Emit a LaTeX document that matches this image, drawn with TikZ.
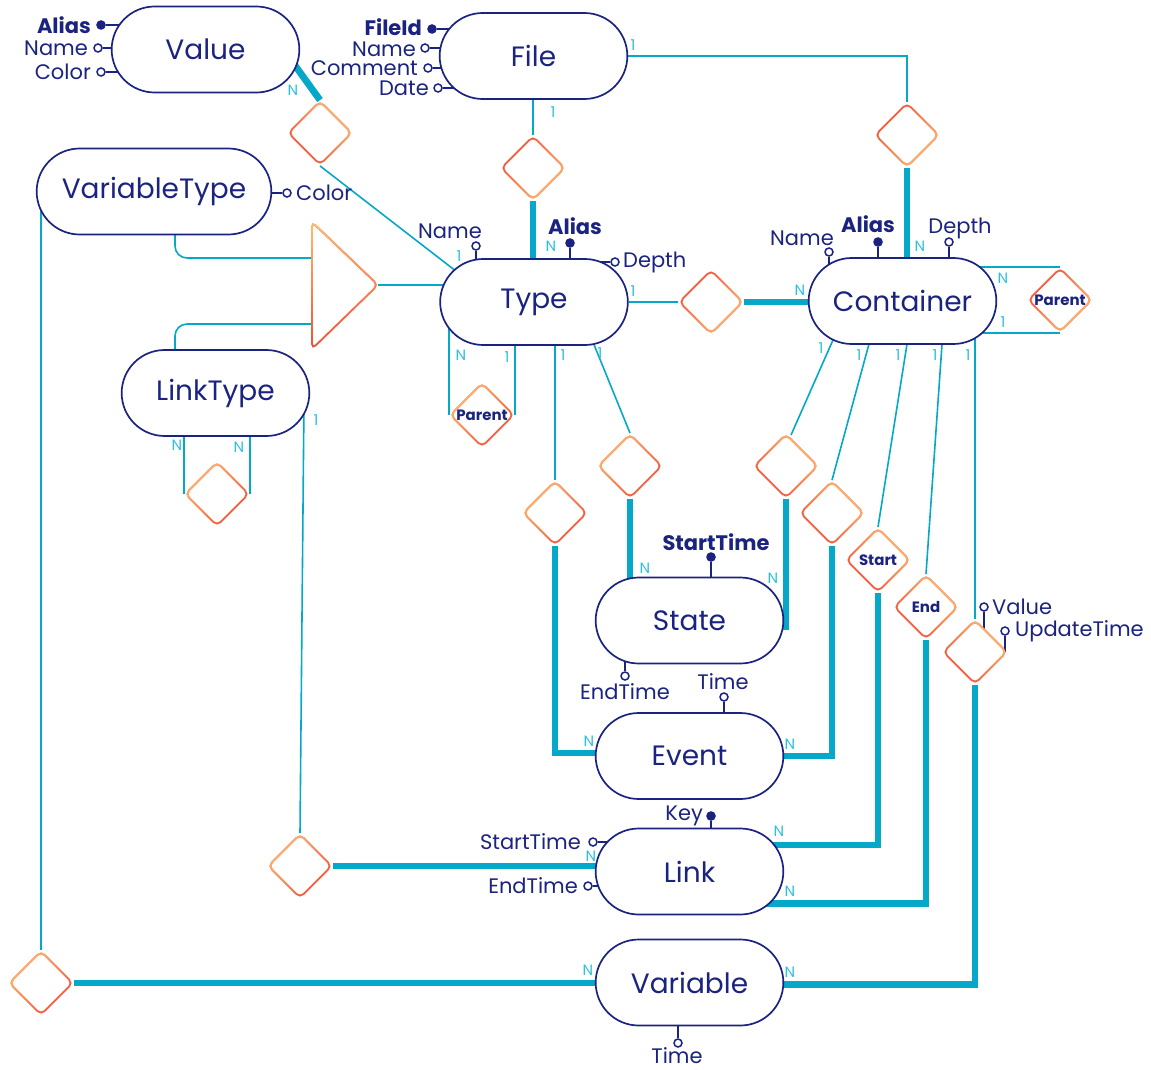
\documentclass[tikz,border=0pt]{standalone}
\usepackage{fontspec}
\setmainfont{Poppins}
\usetikzlibrary{positioning,shapes.geometric,shapes.misc,fadings}

\definecolor{navy}{HTML}{1B2380}
\definecolor{conn}{HTML}{05A8C8}
\definecolor{cardcyan}{HTML}{2CC2DF}
\definecolor{relred}{HTML}{EF4E38}
\definecolor{relorange}{HTML}{FFBE70}

\tikzfading[name=relfade, bottom color=transparent!100, top color=transparent!0]

\pgfdeclarelayer{bg}
\pgfsetlayers{bg,main}

\tikzset{
  entity/.style={rounded rectangle, draw=navy, line width=0.85pt, fill=white, text=navy,
    minimum width=100.5pt, minimum height=43pt, font=\fontsize{14}{17}\selectfont},
  rel/.style={diamond, draw=relred, line width=0.9pt, fill=white, rounded corners=2.5pt,
    minimum size=32pt, inner sep=0pt, text=navy, font=\fontsize{7.5}{9}\selectfont\bfseries,
    postaction={draw=relorange, line width=0.9pt, path fading=relfade, fading angle=#1}},
  rel/.default=-45,
  one/.style={draw=conn, line width=0.8pt},
  many/.style={draw=conn, line width=3.4pt},
  card/.style={text=cardcyan, inner sep=0pt, font=\fontsize{7.5}{9}\selectfont},
  att/.style={circle, draw=navy, fill=white, line width=0.75pt, inner sep=0pt, minimum size=4pt},
  key/.style={att, fill=navy},
  atxt/.style={text=navy, inner sep=0pt, font=\fontsize{10.5}{12}\selectfont},
  ktxt/.style={atxt, font=\fontsize{10.5}{12}\selectfont\bfseries},
  attline/.style={draw=navy, line width=0.75pt},
}

\begin{document}
\begin{tikzpicture}[x=0.5pt,y=-0.5pt]
  \useasboundingbox (0,0) rectangle (1151,1070);

  \begin{scope}[every node/.style={entity}]
    \node (Value)        at (205.5,49.5) {Value};
    \node (File)         at (533.5,56)   {File};
    \node[minimum width=124pt] (VariableType) at (154,191.5) {VariableType};
    \node (Type)         at (534,302)    {Type};
    \node (Container)    at (902.5,301)  {Container};
    \node (LinkType)     at (215.5,393)  {LinkType};
    \node (State)        at (689.5,620.5) {State};
    \node (Event)        at (689.5,756)  {Event};
    \node (Link)         at (689.5,871.5) {Link};
    \node (Variable)     at (689.5,982.5) {Variable};
  \end{scope}

  \node[rel]      (ValueType)    at (320,133)  {};
  \node[rel=-135] (FileType)     at (533,168)  {};
  \node[rel=-135] (FileCont)     at (907,135)  {};
  \node[rel=-135] (TypeCont)     at (711,302)  {};
  \node[rel=-135] (ContParent)   at (1060,300) {Parent};
  \node[rel=45]   (TypeParent)   at (482,415)  {Parent};
  \node[rel=45]   (LinkTypeSelf) at (217,494)  {};
  \node[rel=45]   (TypeEvent)    at (555,513)  {};
  \node[rel=45]   (TypeState)    at (630,466)  {};
  \node[rel]      (ContState)    at (786,466)  {};
  \node[rel]      (ContEvent)    at (832,513)  {};
  \node[rel]      (ContStart)    at (878,560)  {Start};
  \node[rel]      (ContEnd)      at (926,607)  {End};
  \node[rel]      (ContVar)      at (975,652)  {};
  \node[rel=45]   (LinkTypeLink) at (300,866)  {};
  \node[rel=45]   (VarTypeVar)   at (41,983)   {};

  \coordinate (TriTop) at (312,222);
  \coordinate (TriTip) at (378,285);
  \coordinate (TriBot) at (312,349);
  \coordinate (TriIn1) at (312,258);
  \coordinate (TriIn2) at (312,324);
  \draw[relred, line width=0.9pt, rounded corners=2.5pt, fill=white,
    postaction={draw=relorange, line width=0.9pt, path fading=relfade, fading angle=0}]
    (TriTop) -- (TriTip) -- (TriBot) -- cycle;

  \node[key] (ValAlias)    at (101,25)  {};
  \node[att] (ValName)     at (98,48)   {};
  \node[att] (ValColor)    at (101,72)  {};
  \node[key] (FileId)      at (432,29)  {};
  \node[att] (FileName)    at (425,48)  {};
  \node[att] (FileComment) at (428,68)  {};
  \node[att] (FileDate)    at (438,88)  {};
  \node[att] (VtColor)     at (287,193) {};
  \node[att] (TypeName)    at (476,246) {};
  \node[key] (TypeAlias)   at (570,243) {};
  \node[att] (TypeDepth)   at (615,262) {};
  \node[att] (ContName)    at (829,252) {};
  \node[key] (ContAlias)   at (878,242) {};
  \node[att] (ContDepth)   at (949,242) {};
  \node[key] (StateStart)  at (711,557) {};
  \node[att] (StateEnd)    at (625,676) {};
  \node[att] (EventTime)   at (724,697) {};
  \node[key] (LinkKey)     at (711,816) {};
  \node[att] (LinkStart)   at (593,842) {};
  \node[att] (LinkEnd)     at (588,886) {};
  \node[att] (VarTime)     at (678,1043) {};
  \node[att] (CvValue)     at (984,607) {};
  \node[att] (CvUpdate)    at (1005,631) {};

  \node[ktxt, left=2.5pt of ValAlias]    (ValAliasT)    {Alias};
  \node[atxt, left=2.5pt of ValName]     (ValNameT)     {Name};
  \node[atxt, left=2.5pt of ValColor]    (ValColorT)    {Color};
  \node[ktxt, left=2.5pt of FileId, yshift=1pt] (FileIdT) {FileId};
  \node[atxt, left=2pt of FileName, yshift=-0.5pt] (FileNameT) {Name};
  \node[atxt, left=2.5pt of FileComment] (FileCommentT) {Comment};
  \node[atxt, left=2pt of FileDate]      (FileDateT)    {Date};
  \node[atxt, right=2pt of VtColor]      (VtColorT)     {Color};
  \node[atxt] (TypeNameT)  at (450,231) {Name};
  \node[ktxt] (TypeAliasT) at (575,226) {Alias};
  \node[atxt, right=1.5pt of TypeDepth]  (TypeDepthT)   {Depth};
  \node[atxt] (ContNameT)  at (802,238) {Name};
  \node[ktxt] (ContAliasT) at (868,224) {Alias};
  \node[atxt] (ContDepthT) at (960,228) {Depth};
  \node[ktxt] (StateStartT) at (716,542) {StartTime};
  \node[atxt] (StateEndT)  at (625,692) {EndTime};
  \node[atxt] (EventTimeT) at (723,682) {Time};
  \node[atxt, left=1.5pt of LinkKey]     (LinkKeyT)     {Key};
  \node[atxt, left=3.5pt of LinkStart]   (LinkStartT)   {StartTime};
  \node[atxt, left=2.5pt of LinkEnd]     (LinkEndT)     {EndTime};
  \node[atxt] (VarTimeT)   at (677,1056) {Time};
  \node[atxt, right=1.5pt of CvValue]    (CvValueT)     {Value};
  \node[atxt, right=2.5pt of CvUpdate]   (CvUpdateT)    {UpdateTime};

  \begin{pgfonlayer}{bg}
    \draw[attline] (ValAlias) -- (ValAlias -| Value.center);
    \draw[attline] (ValName) -- (ValName -| Value.center);
    \draw[attline] (ValColor) -- (ValColor -| Value.center);
    \draw[attline] (FileId) -- (FileId -| File.center);
    \draw[attline] (FileName) -- (FileName -| File.center);
    \draw[attline] (FileComment) -- (FileComment -| File.center);
    \draw[attline] (FileDate) -- (FileDate -| File.center);
    \draw[attline] (VtColor) -- (VtColor -| VariableType.center);
    \draw[attline] (TypeName) -- (TypeName |- Type.center);
    \draw[attline] (TypeAlias) -- (TypeAlias |- Type.center);
    \draw[attline] (TypeDepth) -- (TypeDepth -| Type.center);
    \draw[attline] (ContName) -- (ContName |- Container.center);
    \draw[attline] (ContAlias) -- (ContAlias |- Container.center);
    \draw[attline] (ContDepth) -- (ContDepth |- Container.center);
    \draw[attline] (StateStart) -- (StateStart |- State.center);
    \draw[attline] (StateEnd) -- (StateEnd |- State.center);
    \draw[attline] (EventTime) -- (EventTime |- Event.center);
    \draw[attline] (LinkKey) -- (LinkKey |- Link.center);
    \draw[attline] (LinkStart) -- (LinkStart -| Link.center);
    \draw[attline] (LinkEnd) -- (LinkEnd -| Link.center);
    \draw[attline] (VarTime) -- (VarTime |- Variable.center);
    \draw[attline] (CvValue) -- (CvValue |- ContVar.center);
    \draw[attline] (CvUpdate) -- (CvUpdate |- ContVar.center);

    \draw[many] ([shift={(78,0)}]Value.center) -- (ValueType.north);
    \draw[one] (ValueType.south) -- ([shift={(-64,-20)}]Type.center);
    \draw[one] (FileType.north) -- (FileType |- File.center);
    \draw[many] (FileType.south) -- (FileType |- Type.center);
    \draw[one] (File) -| (FileCont.north);
    \draw[many] (FileCont.south) -- (FileCont |- Container.center);
    \draw[one, rounded corners=6pt] ([shift={(21,0)}]VariableType.center) |- (TriIn1);
    \draw[one, rounded corners=6pt] ([shift={(-40.5,0)}]LinkType.center) |- (TriIn2);
    \draw[one] (TriTip) -- (TriTip -| Type.center);
    \draw[one] (Type) -- (TypeCont);
    \draw[many] (TypeCont) -- (TypeCont -| Container.center);
    \draw[one] (TypeParent.west) -- (TypeParent.west |- Type.center);
    \draw[one] (TypeParent.east) -- (TypeParent.east |- Type.center);
    \draw[one] (TypeEvent.north) -- (TypeEvent |- Type.center);
    \draw[many] (TypeEvent.south) |- ([shift={(0,-3)}]Event.center);
    \draw[one] ([shift={(50,18)}]Type.center) -- (TypeState.north);
    \draw[many] (TypeState.south) -- (TypeState.south |- State.center);
    \draw[one] ([shift={(-58.5,14)}]Container.center) -- ([shift={(5,2)}]ContState.north);
    \draw[many] (ContState.south) |- ([shift={(0,6)}]State.center);
    \draw[one] ([shift={(-27,19)}]Container.center) -- (ContEvent.north);
    \draw[many] (ContEvent.south) |- (Event.center);
    \draw[one] ([shift={(8.3,19)}]Container.center) -- (ContStart.north);
    \draw[many] (ContStart.south) |- ([shift={(0,-26.5)}]Link.center);
    \draw[one] ([shift={(41.2,19)}]Container.center) -- (ContEnd.north);
    \draw[many] (ContEnd.south) |- ([shift={(0,32)}]Link.center);
    \draw[one] (ContVar.north) -- (ContVar |- Container.center);
    \draw[many] (ContVar.south) |- ([shift={(0,2)}]Variable.center);
    \draw[one] (ContParent.north) -- (ContParent.north -| Container.center);
    \draw[one] (ContParent.south) -- (ContParent.south -| Container.center);
    \draw[one] (LinkTypeSelf.west) -- (LinkTypeSelf.west |- LinkType.center);
    \draw[one] (LinkTypeSelf.east) -- (LinkTypeSelf.east |- LinkType.center);
    \draw[one] ([shift={(88.5,7)}]LinkType.center) -- (LinkTypeLink.north);
    \draw[many] (LinkTypeLink) -- (LinkTypeLink -| Link.center);
    \draw[one] (VarTypeVar.north) -- (VarTypeVar |- VariableType.center);
    \draw[many] (VarTypeVar) -- (VarTypeVar -| Variable.center);
  \end{pgfonlayer}

  \begin{scope}[every node/.style={card}]
    \node (cValueN)    at (293,90)   {N};
    \node (cTypeName1) at (459,256)  {1};
    \node (cFile1)     at (553,112)  {1};
    \node (cTypeN)     at (551,246)  {N};
    \node (cFileR1)    at (633,45)   {1};
    \node (cContN)     at (920,246)  {N};
    \node (cTypeR1)    at (633,291)  {1};
    \node (cContL)     at (800,290)  {N};
    \node (cTpN)       at (461,355)  {N};
    \node (cTp1)       at (507,357)  {1};
    \node (cTe1)       at (563,355)  {1};
    \node (cTs1)       at (600,353)  {1};
    \node (cStateL)    at (645,568)  {N};
    \node (cEventL)    at (589,741)  {N};
    \node (cStateR)    at (773,578)  {N};
    \node (cEventR)    at (790,744)  {N};
    \node (cCs1)       at (821,348)  {1};
    \node (cCe1)       at (859,355)  {1};
    \node (cCst1)      at (898,355)  {1};
    \node (cCen1)      at (935,355)  {1};
    \node (cCv1)       at (968,355)  {1};
    \node (cLinkR1)    at (779,831)  {N};
    \node (cLinkR2)    at (790,891)  {N};
    \node (cVarR)      at (790,972)  {N};
    \node (cCpN)       at (1003,278) {N};
    \node (cCp1)       at (1003,322) {1};
    \node (cLtN1)      at (177,445)  {N};
    \node (cLtN2)      at (239,447)  {N};
    \node (cLt1)       at (316,420)  {1};
    \node (cLinkL)     at (591,856)  {N};
    \node (cVarL)      at (588,970)  {N};
  \end{scope}

\end{tikzpicture}
\end{document}
